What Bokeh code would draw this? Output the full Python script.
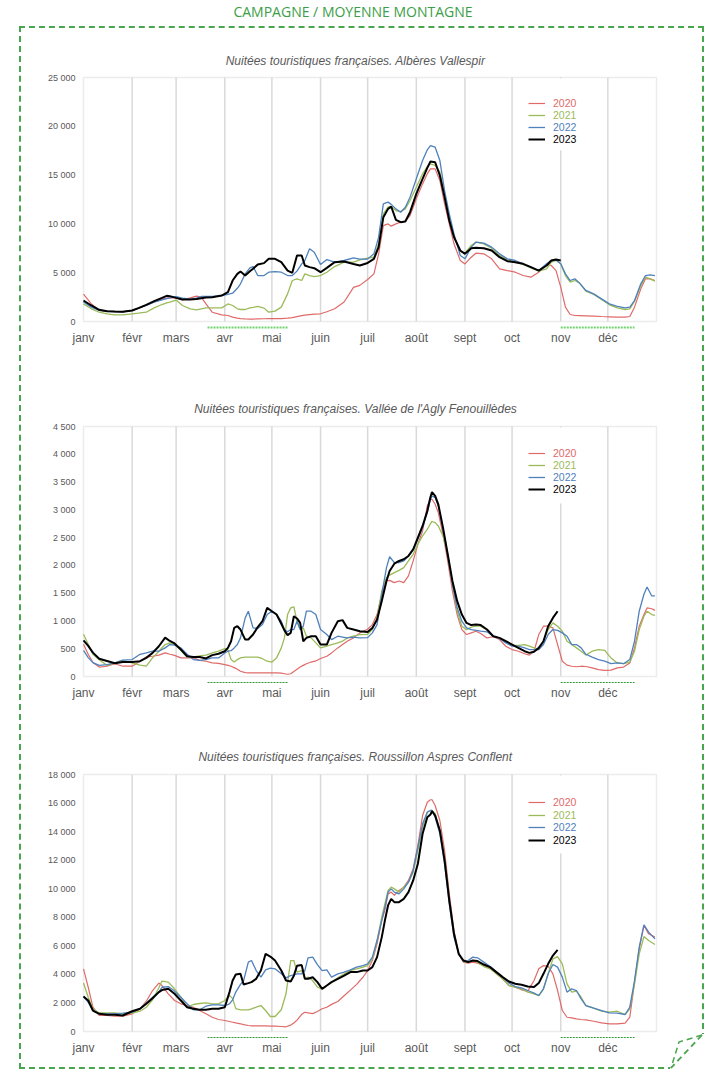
from bokeh.plotting import figure
from bokeh.layouts import column
from bokeh.models import (Range1d, FixedTicker, Label, BoxAnnotation, Legend, LegendItem, Div)
from bokeh.embed import file_html
from bokeh.resources import INLINE

# ---------------- data ----------------
HEADER = "CAMPAGNE / MOYENNE MONTAGNE"
YEARS = ["2020", "2021", "2022", "2023"]
MONTH_STARTS = [0, 31, 59, 90, 120, 151, 181, 212, 243, 273, 304, 334]
MONTH_LABELS = ["janv", "févr", "mars", "avr", "mai", "juin", "juil", "août", "sept", "oct", "nov", "déc"]
HOLIDAY_START = [79, 304]
HOLIDAY_END = [130, 351]

TITLE_ALB = "Nuitées touristiques françaises. Albères Vallespir"
TITLE_AGLY = "Nuitées touristiques françaises. Vallée de l'Agly Fenouillèdes"
TITLE_ROUS = "Nuitées touristiques françaises. Roussillon Aspres Conflent"

ALB_YTICKS = [0, 5000, 10000, 15000, 20000, 25000]
ALB_YLABELS = ["0", "5 000", "10 000", "15 000", "20 000", "25 000"]
AGLY_YTICKS = [0, 500, 1000, 1500, 2000, 2500, 3000, 3500, 4000, 4500]
AGLY_YLABELS = ["0", "500", "1 000", "1 500", "2 000", "2 500", "3 000", "3 500", "4 000", "4 500"]
ROUS_YTICKS = [0, 2000, 4000, 6000, 8000, 10000, 12000, 14000, 16000, 18000]
ROUS_YLABELS = ["0", "2 000", "4 000", "6 000", "8 000", "10 000", "12 000", "14 000", "16 000", "18 000"]

ALB_DAYS = [0, 5, 10, 15, 20, 25, 31, 35, 40, 45, 50, 53, 55, 59, 63, 68, 72, 75, 78, 82, 88, 92, 95, 98, 100,
            103, 106, 108, 111, 115, 118, 122, 126, 130, 133, 136, 139, 141, 144, 147, 151, 155, 160, 166, 172,
            176, 181, 185, 188, 191, 194, 196, 199, 202, 205, 208, 212, 216, 219, 221, 224, 227, 230, 233, 236,
            240, 243, 247, 250, 255, 260, 265, 270, 275, 280, 285, 290, 295, 298, 301, 304, 307, 310, 313, 316,
            320, 325, 330, 335, 340, 345, 348, 351, 355, 358, 361, 364]
ALB_2023 = [2150, 1640, 1200, 1060, 1020, 990, 1130, 1370, 1700, 2080, 2420, 2630, 2600, 2420, 2250, 2250,
            2300, 2390, 2450, 2490, 2660, 3000, 4200, 4880, 5120, 4710, 5150, 5400, 5840, 5980, 6420,
            6420, 6080, 5220, 4990, 6760, 6760, 5740, 5570, 5460, 5050, 5500, 6080, 6150, 5900, 5740,
            6000, 6420, 7620, 10690, 11540, 11780, 10420, 10180, 10250, 11200, 13080, 14620, 15740, 16390,
            16320, 14960, 12740, 10350, 8640, 7270, 6930, 7510, 7550, 7510, 7270, 6590, 6180, 6080, 5910,
            5570, 5220, 5740, 6250, 6350, 6250]
ALB_2022 = [2000, 1470, 1130, 1060, 1020, 1000, 1130, 1370, 1650, 1980, 2220, 2350, 2420, 2550, 2390, 2300,
            2400, 2560, 2560, 2560, 2660, 2770, 2900, 3400, 3860, 4880, 5500, 5630, 4710, 4710, 5050,
            5120, 5050, 4710, 4710, 5160, 5900, 6250, 7450, 7100, 5840, 6350, 6080, 6250, 6520, 6390,
            6400, 6930, 8640, 12050, 12230, 12000, 11540, 11200, 11710, 12740, 14620, 16490, 17590, 18030,
            17860, 16490, 13420, 11030, 8980, 6760, 6420, 7620, 8130, 8030, 7620, 6930, 6420, 6250, 5910,
            5570, 5220, 5910, 6250, 6300, 5910, 4880, 4200, 4370, 3930, 3180, 2830, 2320, 1810, 1540, 1400,
            1470, 2150, 3860, 4710, 4780, 4710]
ALB_2021 = [1800, 1300, 950, 790, 680, 680, 790, 850, 950, 1400, 1740, 1900, 1980, 2200, 1640, 1300,
            1200, 1300, 1400, 1400, 1400, 1800, 1640, 1300, 1230, 1230, 1400, 1450, 1540, 1370, 950,
            1060, 1470, 2830, 4200, 4370, 4200, 4880, 4710, 4600, 4710, 5050, 5630, 6080, 6080, 6320,
            6500, 6590, 7960, 11030, 11710, 11800, 11370, 11270, 11540, 12400, 13760, 15130, 15880, 16150,
            16000, 15300, 13080, 10690, 8640, 7170, 7030, 7790, 8130, 7960, 7510, 6760, 6320, 6080, 5840,
            5500, 5160, 5400, 6080, 6250, 5910, 4710, 4030, 4200, 3930, 3110, 2770, 2250, 1710, 1400, 1230,
            1300, 2080, 3690, 4540, 4370, 4130]
ALB_2020 = [2800, 1800, 1130, 1060, 1000, 990, 1130, 1370, 1700, 2000, 2290, 2400, 2450, 2420, 2220, 2420,
            2600, 2500, 1800, 950, 680, 615, 450, 350, 300, 270, 250, 250, 270, 280, 290,
            300, 300, 340, 400, 500, 600, 650, 700, 750, 790, 1000, 1300, 2000, 3500, 3700,
            4300, 4880, 6930, 9830, 10000, 9770, 10000, 10180, 10280, 10860, 12570, 14100, 15130, 15640,
            15640, 14450, 12050, 10000, 7960, 6250, 5900, 6590, 7000, 6930, 6420, 5400, 5220, 5050, 4710,
            4540, 5050, 5910, 5740, 5220, 3520, 1470, 720, 615, 600, 580, 550, 510, 480, 440, 440,
            510, 1470, 3350, 4370, 4370, 4200]

AGLY_DAYS = [0, 3, 6, 10, 15, 20, 25, 31, 36, 40, 44, 48, 52, 55, 58, 62, 66, 70, 74, 78, 82, 86, 90, 92, 94,
             96, 98, 100, 103, 105, 108, 111, 114, 117, 120, 123, 126, 128, 130, 132, 134, 136, 138, 140, 142,
             145, 148, 151, 155, 158, 162, 165, 168, 172, 176, 181, 184, 187, 190, 193, 195, 198, 201, 204, 207,
             210, 213, 216, 219, 221, 222, 224, 226, 229, 232, 235, 238, 241, 244, 247, 250, 253, 257, 261, 265,
             269, 273, 277, 281, 284, 287, 290, 293, 296, 299, 302, 305, 308, 311, 314, 317, 320, 324, 328, 332,
             336, 340, 344, 348, 351, 354, 357, 359, 362, 364]
AGLY_2023 = [650, 550, 430, 320, 280, 240, 260, 260, 275, 335, 425, 545, 700, 640, 595, 485, 365, 350, 350, 325,
             385, 410, 455, 515, 635, 875, 905, 845, 665, 665, 755, 890, 995, 1235, 1175, 1115, 950, 830, 745, 785,
             1085, 1045, 965, 635, 695, 725, 725, 575, 575, 785, 995, 1015, 875, 845, 815, 800, 875, 1025, 1360, 1720,
             1900, 2030, 2080, 2110, 2170, 2290, 2500, 2710, 2980, 3230, 3320, 3250, 3100, 2680, 2200,
             1720, 1360, 1115, 965, 925, 935, 925, 845, 725, 695, 635, 575, 515, 455, 425, 445, 515, 635, 905, 1055,
             1175]
AGLY_2022 = [470, 340, 250, 200, 215, 245, 295, 305, 400, 425, 455, 455, 515, 575, 565, 515, 400, 305, 290, 305,
             335, 335, 425, 455, 465, 515, 575, 695, 1055, 1175, 875, 865, 935, 1115, 1175, 1115, 995, 845, 805, 845,
             845, 995, 845, 905, 1175, 1175, 1115, 845, 755, 665, 725, 710, 695, 710, 695, 700, 785, 935, 1480, 1960,
             2155, 2050, 2050, 2080, 2170, 2270, 2470, 2680, 2950, 3190, 3250, 3220, 3070, 2650, 2200,
             1660, 1240, 995, 875, 845, 830, 815, 805, 725, 685, 605, 545, 545, 515, 485, 485, 485, 575, 755, 845,
             830, 785, 725, 575, 575, 515, 400, 350, 305, 275, 230, 245, 230, 305, 635, 1175, 1480, 1610, 1450, 1450]
AGLY_2021 = [760, 580, 400, 300, 200, 245, 290, 245, 205, 185, 335, 455, 575, 605, 575, 470, 350, 355, 370, 385,
             425, 455, 500, 480, 305, 260, 305, 335, 350, 350, 350, 350, 320, 275, 260, 335, 515, 695, 1115, 1235,
             1255, 995, 845, 875, 725, 695, 605, 515, 545, 575, 605, 635, 695, 725, 755, 760, 845, 1055, 1540, 1780,
             1825, 1870, 1910, 1960, 2080, 2200, 2380, 2530, 2650, 2750, 2790, 2770, 2710, 2530, 2200,
             1660, 1180, 905, 845, 890, 905, 905, 845, 725, 685, 635, 560, 560, 575, 545, 515, 485, 635, 845, 965,
             905, 815, 635, 575, 515, 455, 385, 455, 485, 470, 335, 245, 230, 260, 455, 845, 1085, 1175, 1115, 1100]
AGLY_2020 = [580, 400, 250, 170, 185, 230, 185, 185, 275, 350, 365, 385, 425, 400, 380, 335, 335, 335, 290, 275,
             245, 235, 215, 200, 185, 160, 130, 95, 70, 65, 65, 65, 65, 65, 65, 65, 60, 50, 40, 50,
             90, 130, 170, 200, 230, 260, 280, 325, 365, 425, 515, 575, 635, 695, 785, 850, 935, 1115, 1480, 1720,
             1730, 1690, 1720, 1690, 1810, 2080, 2380, 2620, 3070, 3190, 3190, 3100, 2950, 2560, 2080,
             1540, 1115, 845, 755, 785, 815, 775, 695, 715, 665, 545, 485, 455, 410, 385, 455, 755, 905, 905, 875,
             575, 275, 205, 185, 175, 185, 180, 155, 125, 110, 115, 155, 170, 245, 515, 905, 1115, 1235, 1220, 1190]

ROUS_DAYS = [0, 3, 6, 10, 15, 20, 25, 31, 36, 40, 44, 48, 50, 54, 58, 62, 66, 70, 74, 78, 82, 86, 90, 93, 95,
             97, 100, 102, 105, 107, 110, 113, 116, 119, 122, 126, 129, 132, 134, 136, 139, 141, 143, 146, 149,
             152, 155, 158, 162, 166, 170, 174, 178, 181, 184, 187, 190, 192, 194, 196, 198, 201, 204, 207, 210,
             213, 216, 219, 221, 222, 224, 227, 230, 233, 236, 239, 242, 245, 248, 251, 255, 259, 263, 267, 271,
             275, 279, 283, 287, 290, 293, 296, 299, 302, 305, 308, 311, 314, 317, 320, 325, 330, 335, 340, 345,
             348, 351, 354, 357, 360, 364]
ROUS_2023 = [2450, 2170, 1470, 1240, 1170, 1170, 1120, 1420, 1590, 1940, 2330, 2760, 2900, 2990, 2640,
             2170, 1700, 1590, 1520, 1520, 1590, 1590, 1700, 2760, 3570, 3990, 4040, 3290, 3390, 3460,
             3690, 4270, 5440, 5250, 4970, 4270, 3570, 3500, 3900, 4600, 4650, 3700, 3700, 3800, 3460,
             2990, 3220, 3460, 3690, 3920, 4160, 4160, 4270, 4270, 4510, 5210, 6610, 7780, 8830, 9290,
             9060, 9060, 9290, 9760, 10580, 11750, 13850, 15010, 15200, 15430, 15130, 14080, 11980, 9180, 6840,
             5440, 4970, 4860, 4970, 4930, 4690, 4510, 4160, 3810, 3500, 3340, 3270, 3150, 3110, 3390,
             4040, 4740, 5320, 5720]
ROUS_2022 = [2450, 2050, 1470, 1240, 1240, 1240, 1280, 1350, 1590, 1985, 2400, 2760, 3100, 3150, 2830,
             2400, 1940, 1520, 1520, 1770, 1870, 1870, 1820, 1940, 2220, 2760, 3300, 3570, 4860, 4970,
             4270, 3810, 4320, 4440, 4390, 4040, 3760, 3920, 3970, 4040, 4040, 4270, 5160, 5210, 4690,
             4270, 4320, 3810, 4040, 4160, 4320, 4510, 4620, 4740, 5210, 6370, 7780, 8710, 9760, 9990,
             9760, 9640, 9990, 10460, 11280, 12910, 14550, 15360, 15480, 15480, 15010, 13850, 11750, 8940, 6610,
             5440, 4930, 4970, 5210, 5160, 4860, 4550, 4160, 3810, 3390, 3150, 3060, 2870, 2690, 2520,
             2990, 4040, 4690, 4510, 3810, 2760, 2990, 2870, 2290, 1820, 1630, 1470, 1310, 1280, 1190,
             1700, 3570, 5910, 7470, 6960, 6490]
ROUS_2021 = [3400, 2400, 1590, 1300, 1310, 1310, 1240, 1280, 1420, 1700, 2220, 3060, 3530, 3460, 2990,
             2400, 1700, 1890, 1960, 2010, 1940, 1940, 2170, 2520, 2300, 1600, 1520, 1520, 1520, 1590,
             1700, 1820, 1470, 1050, 1050, 1520, 2640, 4970, 4970, 4160, 4270, 3690, 3810, 3570, 3110,
             2990, 3220, 3460, 3760, 4040, 4270, 4390, 4510, 4620, 5090, 6370, 8010, 8940, 9880, 10110,
             9990, 9760, 10110, 10460, 11160, 12680, 14310, 15360, 15480, 15480, 15250, 14080, 12100, 9290, 6840,
             5440, 4900, 4860, 4970, 4860, 4550, 4390, 4040, 3690, 3220, 3110, 2990, 2760, 2640, 2520,
             2990, 4040, 5090, 5250, 4740, 3340, 2760, 2830, 2400, 1820, 1630, 1420, 1350, 1420, 1190,
             1590, 3340, 5440, 6650, 6370, 6090]
ROUS_2020 = [4390, 3100, 1700, 1120, 1120, 1070, 1070, 1240, 1590, 2120, 2870, 3390, 3220, 2640, 2170,
             1940, 1820, 1700, 1470, 1240, 1000, 840, 770, 700, 650, 600, 540, 480, 420, 400,
             400, 390, 390, 380, 370, 350, 330, 450, 600, 800, 1200, 1350, 1300, 1250, 1400,
             1590, 1700, 1900, 2100, 2500, 2900, 3300, 3800, 4270, 4970, 6140, 7780, 8500, 9640, 9760,
             9530, 9880, 10110, 10580, 11400, 13030, 15130, 16060, 16230, 16230, 15830, 14780, 12680, 9640, 7070,
             5440, 4860, 4790, 4860, 4790, 4620, 4440, 4040, 3690, 3220, 3110, 2920, 2830, 3570, 4390,
             4620, 4570, 4040, 2870, 1470, 1000, 960, 890, 840, 820, 720, 610, 540, 540, 580,
             1000, 3460, 5790, 7430, 6840, 6610]

# ---------------- styling / layout (page pixels) ----------------
COLORS = {"2020": "#e06a6a", "2021": "#9bbb59", "2022": "#4f81bd", "2023": "#000000"}
WIDTHS = {"2020": 1.2, "2021": 1.3, "2022": 1.3, "2023": 2.0}
GREEN = "#4aa54f"
CHART_FONT = "Liberation Sans"
CONTENT_LEFT, CONTENT_RIGHT = 21, 702       # inside of dashed frame
BOX_LEFT, BOX_RIGHT = 83, 656               # plot box (janv .. end of déc)
PAD_X, PAD_BOTTOM = 3, 8
FRAME_LEFT, FRAME_RIGHT = BOX_LEFT - PAD_X, BOX_RIGHT + PAD_X
DAYS_IN_YEAR = 365


def make_chart(cfg):
    canvas_top, canvas_bottom = cfg["canvas"]
    box_top, box_bottom = cfg["box"]
    frame_top = cfg["frame_top"]
    frame_bottom = box_bottom + PAD_BOTTOM
    ymax = cfg["ymax"]
    upp = ymax / (box_bottom - box_top)                    # data units per pixel
    dpp = DAYS_IN_YEAR / (BOX_RIGHT - BOX_LEFT)            # days per pixel

    def sx(px):
        return px - FRAME_LEFT

    def sy(py):
        return frame_bottom - py

    p = figure(width=CONTENT_RIGHT - CONTENT_LEFT, height=canvas_bottom - canvas_top,
               x_range=Range1d(-PAD_X * dpp, DAYS_IN_YEAR + PAD_X * dpp),
               y_range=Range1d(-PAD_BOTTOM * upp, ymax + (box_top - frame_top) * upp),
               output_backend="svg", toolbar_location=None,
               min_border_left=FRAME_LEFT - CONTENT_LEFT, min_border_right=CONTENT_RIGHT - FRAME_RIGHT,
               min_border_top=frame_top - canvas_top, min_border_bottom=canvas_bottom - frame_bottom)
    p.background_fill_color = "white"
    p.border_fill_color = "white"
    p.outline_line_color = None
    p.xgrid.grid_line_color = None
    p.ygrid.grid_line_color = None

    p.xaxis.ticker = FixedTicker(ticks=MONTH_STARTS)
    p.xaxis.major_label_overrides = {d: m for d, m in zip(MONTH_STARTS, MONTH_LABELS)}
    p.yaxis.ticker = FixedTicker(ticks=cfg["yticks"])
    p.yaxis.major_label_overrides = {t: s for t, s in zip(cfg["yticks"], cfg["ylabels"])}
    for ax in (p.xaxis[0], p.yaxis[0]):
        ax.axis_line_color = None
        ax.major_tick_line_color = None
        ax.minor_tick_line_color = None
        ax.major_tick_out = 0
        ax.major_tick_in = 0
        ax.major_label_text_color = "#595959"
        ax.major_label_text_font = CHART_FONT
    p.xaxis.major_label_text_font_size = "12px"
    p.xaxis.major_label_standoff = 1
    p.yaxis.major_label_text_font_size = "9px"
    p.yaxis.major_label_standoff = 5

    # plot box and month grid lines
    p.add_layout(BoxAnnotation(left=0, right=DAYS_IN_YEAR, bottom=0, top=ymax, level="underlay",
                               fill_alpha=0, line_color="#bfbfbf", line_width=1.5))
    p.segment(x0=MONTH_STARTS[1:], y0=0, x1=MONTH_STARTS[1:], y1=ymax, line_color="#d9d9d9", line_width=1.5)

    # holiday markers under the axis
    p.segment(x0=HOLIDAY_START, y0=-6 * upp, x1=HOLIDAY_END, y1=-6 * upp,
              line_color=cfg["hol_color"], line_width=cfg["hol_width"], line_dash=cfg["hol_dash"])

    # white legend panel
    p.add_layout(BoxAnnotation(left=sx(515), right=sx(600), top=sy(box_top + 1), bottom=sy(cfg["legend_bg_bottom"]),
                               left_units="screen", right_units="screen", top_units="screen", bottom_units="screen",
                               fill_color="white", fill_alpha=1, line_color=None))

    days = cfg["days"]
    renderers = {}
    for yr in YEARS:
        vals = cfg["series"][yr]
        renderers[yr] = p.line(days[:len(vals)], vals, line_color=COLORS[yr], line_width=WIDTHS[yr])

    for yr, row_y in zip(YEARS, cfg["legend_rows"]):
        p.add_layout(Legend(items=[LegendItem(label=yr, renderers=[renderers[yr]])],
                            location=(sx(528), sy(row_y + 6)),
                            glyph_width=17, glyph_height=12, label_height=12, label_standoff=8,
                            padding=0, margin=0, spacing=0,
                            label_text_font=CHART_FONT, label_text_font_size="10.5px",
                            label_text_color=COLORS[yr],
                            background_fill_color="white", background_fill_alpha=1,
                            border_line_color=None))

    p.add_layout(Label(x=sx(355), y=sy(cfg["title_y"]), x_units="screen", y_units="screen",
                       text=cfg["title"], text_align="center", text_baseline="middle",
                       text_font=CHART_FONT, text_font_style="italic", text_font_size="12px",
                       text_color="#595959"))
    return p


cfgs = [
    dict(canvas=(28, 360), box=(77, 321), frame_top=48, ymax=25000, yticks=ALB_YTICKS, ylabels=ALB_YLABELS,
         days=ALB_DAYS, series={"2020": ALB_2020, "2021": ALB_2021, "2022": ALB_2022, "2023": ALB_2023},
         title=TITLE_ALB, title_y=60, legend_rows=[103, 115, 127, 139], legend_bg_bottom=150,
         hol_color="#6fd36f", hol_width=2, hol_dash="2 1"),
    dict(canvas=(360, 712), box=(426, 676), frame_top=395, ymax=4500, yticks=AGLY_YTICKS, ylabels=AGLY_YLABELS,
         days=AGLY_DAYS, series={"2020": AGLY_2020, "2021": AGLY_2021, "2022": AGLY_2022, "2023": AGLY_2023},
         title=TITLE_AGLY, title_y=408, legend_rows=[453, 465, 477, 489], legend_bg_bottom=503,
         hol_color="#2e9a3a", hol_width=1, hol_dash="2 1"),
    dict(canvas=(712, 1067), box=(774, 1031), frame_top=743, ymax=18000, yticks=ROUS_YTICKS, ylabels=ROUS_YLABELS,
         days=ROUS_DAYS, series={"2020": ROUS_2020, "2021": ROUS_2021, "2022": ROUS_2022, "2023": ROUS_2023},
         title=TITLE_ROUS, title_y=756, legend_rows=[802, 815, 827, 840], legend_bg_bottom=853,
         hol_color="#2e9a3a", hol_width=1, hol_dash="2 1"),
]

figs = [make_chart(c) for c in cfgs]

header = Div(text=HEADER, width=706, height=26, margin=0,
             styles={"text-align": "center", "color": "#3c9e46", "font-family": "'Open Sans', sans-serif",
                     "font-size": "14px", "line-height": "24px"})

# folded bottom-right corner of the dashed frame (pure decoration, drawn with CSS)
FOLD_SVG = ("data:image/svg+xml;utf8,<svg xmlns='http://www.w3.org/2000/svg' width='34' height='36'>"
            "<polygon points='31,1 34,1 34,36 0,36 0,34' fill='white'/>"
            "<g fill='none' stroke='%234aa54f' stroke-dasharray='6 4'>"
            "<line x1='32' y1='2' x2='1' y2='35' stroke-width='1.8'/>"
            "<polyline points='32,2 9,9 1,35' stroke-width='1.5'/></g></svg>")
fold_css = (":host::after { content: ''; position: absolute; right: -2px; bottom: -2px; "
            "width: 34px; height: 36px; pointer-events: none; "
            "background: url(\"" + FOLD_SVG + "\") no-repeat; }")

framed = column(*figs, spacing=0, margin=(0, 0, 0, 19),
                styles={"border": "2px dashed " + GREEN, "position": "relative"},
                stylesheets=[fold_css])
page = column(header, framed, spacing=0, margin=0)
open("out.html", "w").write(file_html(page, INLINE))
